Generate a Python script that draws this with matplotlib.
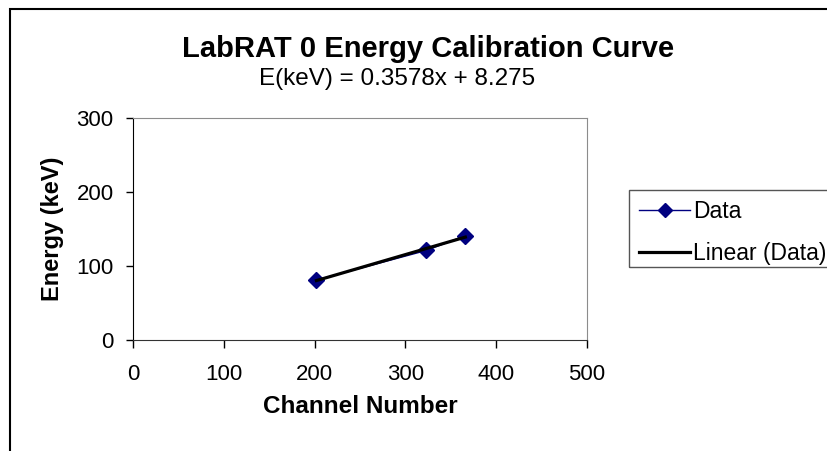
import numpy as np
import matplotlib
matplotlib.use("Agg")
import matplotlib.pyplot as plt
from matplotlib.patches import Rectangle

plt.rcParams['font.family'] = ['Liberation Sans', 'DejaVu Sans']

# calibration points
channel = [202, 323, 366]
energy = [81, 121, 141]
x_ticks = [0, 100, 200, 300, 400, 500]
y_ticks = [0, 100, 200, 300]
title = "LabRAT 0 Energy Calibration Curve"
fit_text = "E(keV) = 0.3578x + 8.275"

W, H = 828, 451
fig = plt.figure(figsize=(W / 100, H / 100), dpi=100, facecolor="white")

# chart area border (cut off on the right and bottom)
fig.add_artist(Rectangle((10 / W, -0.05), 1.0, 1 - 9 / H + 0.05, transform=fig.transFigure,
                         fill=False, edgecolor="black", lw=1.5))

ax = fig.add_axes([133 / W, 1 - 340 / H, (587 - 133) / W, (340 - 118) / H])

slope, icpt = np.polyfit(channel, energy, 1)
xf = np.array([min(channel), max(channel)])

ax.plot(channel, energy, color="#000080", lw=1, marker="D", ms=8.5,
        mfc="#000080", mec="#000080", label="Data", zorder=3)
ax.plot(xf, slope * xf + icpt, color="black", lw=2.3, label="Linear (Data)", zorder=4)

ax.set_xlim(0, 500)
ax.set_ylim(0, 300)
ax.set_xticks(x_ticks)
ax.set_yticks(y_ticks)
ax.tick_params(axis="x", direction="out", length=5.5, width=1, pad=12, labelsize=16, colors="black")
ax.tick_params(axis="y", direction="out", length=5, width=1, pad=9, labelsize=16, colors="black")
ax.spines["left"].set_color("black")
ax.spines["bottom"].set_color("#333333")
ax.spines["top"].set_color("#8c8c8c")
ax.spines["right"].set_color("#8c8c8c")

ax.set_xlabel("Channel Number", fontsize=17.5, fontweight="bold", labelpad=7)
ax.set_ylabel("Energy (keV)", fontsize=17, fontweight="bold", labelpad=9)

fig.text(428 / W, 1 - 57 / H, title, ha="center", va="baseline", fontsize=21, fontweight="bold")
fig.text(397 / W, 1 - 85 / H, fit_text, ha="center", va="baseline", fontsize=17.5)

# legend box runs off the right edge, so draw its frame separately
leg = fig.legend(loc="upper left", bbox_to_anchor=(629 / W, 1 - 190 / H), borderaxespad=0,
                 fontsize=16.5, frameon=False, handlelength=2.2,
                 handletextpad=0.15, borderpad=0.45, labelspacing=0.8, markerscale=0.8)
fig.add_artist(Rectangle((629 / W, 1 - 267 / H), 0.5, (267 - 190) / H, transform=fig.transFigure,
                         fill=False, edgecolor="#555555", lw=1))

fig.savefig("out.png", dpi=100)
